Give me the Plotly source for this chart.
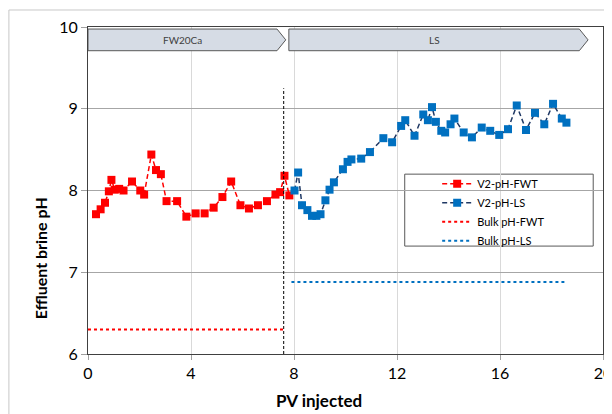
import plotly.graph_objects as go

# V2-pH-FWT data
fwt_pv = [0.31, 0.49, 0.66, 0.81, 0.91, 1.04, 1.21, 1.38, 1.71, 2.03, 2.18, 2.46, 2.64, 2.83,
          3.05, 3.46, 3.82, 4.18, 4.53, 4.88, 5.22, 5.56, 5.92, 6.25, 6.60, 6.95, 7.28, 7.46,
          7.63, 7.82]
fwt_ph = [7.71, 7.77, 7.85, 7.99, 8.13, 8.01, 8.02, 8.00, 8.11, 8.00, 7.95, 8.44, 8.25, 8.20,
          7.87, 7.87, 7.68, 7.72, 7.72, 7.79, 7.92, 8.11, 7.82, 7.78, 7.82, 7.87, 7.95, 7.98,
          8.18, 7.94]

# V2-pH-LS data
ls_pv = [8.02, 8.16, 8.31, 8.52, 8.70, 8.87, 9.03, 9.22, 9.38, 9.55, 9.90, 10.08, 10.23,
         10.61, 10.95, 11.47, 11.81, 12.16, 12.32, 12.68, 13.02, 13.20, 13.36, 13.51, 13.72,
         13.87, 14.08, 14.23, 14.59, 14.91, 15.29, 15.62, 15.97, 16.31, 16.65, 17.01, 17.36,
         17.72, 18.06, 18.40, 18.58]
ls_ph = [8.00, 8.22, 7.82, 7.76, 7.69, 7.69, 7.71, 7.88, 8.01, 8.10, 8.26, 8.35, 8.38,
         8.39, 8.47, 8.64, 8.59, 8.79, 8.86, 8.67, 8.93, 8.86, 9.02, 8.84, 8.73,
         8.71, 8.81, 8.88, 8.71, 8.65, 8.77, 8.73, 8.68, 8.75, 9.04, 8.74, 8.95,
         8.81, 9.06, 8.88, 8.83]

# Bulk pH lines
bulk_fwt_pv = [0.0, 7.6]
bulk_fwt_ph = [6.3, 6.3]
bulk_ls_pv = [7.9, 18.5]
bulk_ls_ph = [6.88, 6.88]

# Phase banners
phase_names = ["FW20Ca", "LS"]
phase_start = [0.0, 7.8]
phase_end = [7.68, 19.42]
switch_pv = 7.6

x_ticks = [0, 4, 8, 12, 16, 20]
y_ticks = [6, 7, 8, 9, 10]

font_family = "Lato, 'Open Sans', sans-serif"

fig = go.Figure()
fig.add_trace(go.Scatter(x=fwt_pv, y=fwt_ph, name="V2-pH-FWT", mode="lines+markers",
                         line=dict(color="#FF0000", dash="5px,3px", width=1.5),
                         marker=dict(symbol="square", size=8, color="#FF0000")))
fig.add_trace(go.Scatter(x=ls_pv, y=ls_ph, name="V2-pH-LS", mode="lines+markers",
                         line=dict(color="#1F3864", dash="5px,3px", width=1.5),
                         marker=dict(symbol="square", size=8, color="#0070C0")))
fig.add_trace(go.Scatter(x=bulk_fwt_pv, y=bulk_fwt_ph, name="Bulk pH-FWT", mode="lines",
                         line=dict(color="#FF0000", dash="dot", width=2)))
fig.add_trace(go.Scatter(x=bulk_ls_pv, y=bulk_ls_ph, name="Bulk pH-LS", mode="lines",
                         line=dict(color="#0070C0", dash="dot", width=2)))

shapes = []
annotations = []
y_top, y_bot = 9.975, 9.71
y_mid = (y_top + y_bot) / 2
for name, xs, xe in zip(phase_names, phase_start, phase_end):
    xr = xe - 0.34
    path = f"M {xs},{y_bot} L {xs},{y_top} L {xr},{y_top} L {xe},{y_mid} L {xr},{y_bot} Z"
    shapes.append(dict(type="path", path=path, xref="x", yref="y",
                       fillcolor="#D6DCE5", line=dict(color="#595959", width=1), layer="above"))
    annotations.append(dict(x=(xs + xr) / 2, y=y_mid, xref="x", yref="y", text=name,
                            showarrow=False, font=dict(size=10, color="#404040", family=font_family)))

shapes.append(dict(type="line", x0=switch_pv, x1=switch_pv, y0=6, y1=9.25, xref="x", yref="y",
                   line=dict(color="#000000", dash="3px,2px", width=1)))
# outer chart border
shapes.append(dict(type="rect", xref="paper", yref="paper", x0=-0.1536, x1=1.05, y0=-0.3, y1=1.052,
                   line=dict(color="#C8C8C8", width=1)))
# legend box
shapes.append(dict(type="rect", xref="paper", yref="paper", x0=0.615, x1=0.981, y0=0.330, y1=0.550,
                   line=dict(color="#595959", width=1), fillcolor="white", layer="below"))

# axis titles
annotations.append(dict(x=0.448, y=-0.143, xref="paper", yref="paper", text="<b>PV injected</b>",
                        showarrow=False, xanchor="center", yanchor="middle",
                        font=dict(size=17, family=font_family, color="#000000")))
annotations.append(dict(x=-0.0925, y=0.294, xref="paper", yref="paper", text="<b>Effluent brine pH</b>",
                        showarrow=False, xanchor="center", yanchor="middle", textangle=-90,
                        font=dict(size=16, family=font_family, color="#000000")))

fig.update_layout(
    width=604, height=406,
    margin=dict(l=80, r=9, t=19, b=60, autoexpand=False),
    paper_bgcolor="white", plot_bgcolor="white",
    font=dict(family=font_family, color="#000000"),
    shapes=shapes, annotations=annotations,
    showlegend=True,
    legend=dict(x=0.678, y=0.565, xanchor="left", yanchor="top",
                borderwidth=0, bgcolor="rgba(0,0,0,0)",
                font=dict(size=11, family=font_family), tracegroupgap=0,
                itemwidth=30),
)
fig.update_xaxes(range=[0, 20], tickvals=x_ticks, showgrid=True, gridcolor="#D9D9D9",
                 showline=True, linecolor="#404040", mirror=True, zeroline=False,
                 ticks="outside", ticklen=5, tickcolor="#A0A0A0", ticklabeloverflow="allow",
                 tickfont=dict(size=16, family=font_family))
fig.update_yaxes(range=[6, 10], tickvals=y_ticks, showgrid=True, gridcolor="#A6A6A6",
                 showline=True, linecolor="#404040", mirror=True, zeroline=False,
                 ticks="outside", ticklen=6, tickcolor="#A0A0A0",
                 tickfont=dict(size=16, family=font_family))

fig.write_html("out.html")
